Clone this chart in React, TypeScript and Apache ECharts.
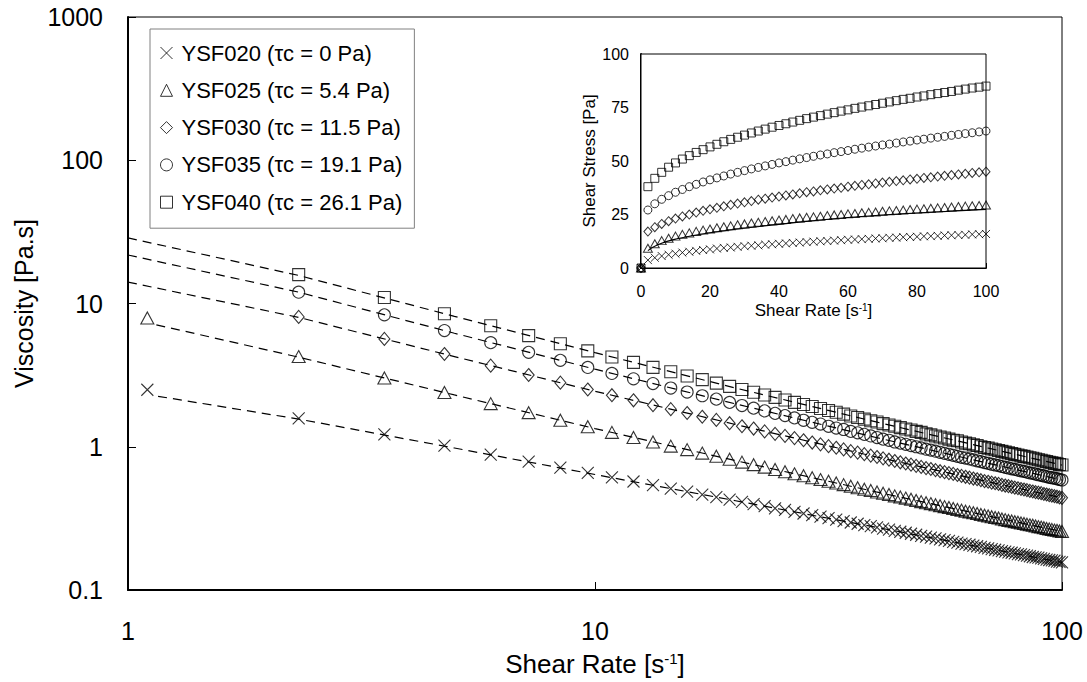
import React, { useEffect, useRef } from 'react';
import * as echarts from 'echarts';

// ---------- main plot data (viscosity vs shear rate, log-log) ----------
const shearRate = [1.10, 2.32, 3.54, 4.76, 5.98, 7.21, 8.43, 9.65, 10.87, 12.09, 13.31, 14.53, 15.75, 16.97, 18.19, 19.42, 20.64, 21.86, 23.08, 24.30, 25.52, 26.74, 27.96, 29.18, 30.40, 31.63, 32.85, 34.07, 35.29, 36.51, 37.73, 38.95, 40.17, 41.39, 42.61, 43.84, 45.06, 46.28, 47.50, 48.72, 49.94, 51.16, 52.38, 53.60, 54.82, 56.05, 57.27, 58.49, 59.71, 60.93, 62.15, 63.37, 64.59, 65.81, 67.03, 68.26, 69.48, 70.70, 71.92, 73.14, 74.36, 75.58, 76.80, 78.02, 79.24, 80.47, 81.69, 82.91, 84.13, 85.35, 86.57, 87.79, 89.01, 90.23, 91.45, 92.68, 93.90, 95.12, 96.34, 97.56, 98.78, 100.00];

const visc020 = [2.50, 1.58, 1.22, 1.02, 0.882, 0.787, 0.714, 0.657, 0.611, 0.572, 0.539, 0.511, 0.486, 0.464, 0.445, 0.427, 0.412, 0.398, 0.385, 0.372, 0.362, 0.351, 0.342, 0.333, 0.325, 0.317, 0.310, 0.303, 0.296, 0.290, 0.284, 0.279, 0.274, 0.268, 0.264, 0.259, 0.255, 0.251, 0.247, 0.243, 0.239, 0.236, 0.232, 0.229, 0.226, 0.223, 0.220, 0.217, 0.214, 0.211, 0.209, 0.207, 0.204, 0.202, 0.200, 0.197, 0.195, 0.193, 0.191, 0.189, 0.187, 0.185, 0.183, 0.182, 0.180, 0.178, 0.177, 0.175, 0.174, 0.172, 0.170, 0.169, 0.168, 0.166, 0.165, 0.163, 0.162, 0.161, 0.160, 0.158, 0.157, 0.156];
const visc025 = [7.93, 4.26, 3.02, 2.39, 2.00, 1.73, 1.53, 1.38, 1.26, 1.16, 1.08, 1.01, 0.955, 0.903, 0.858, 0.818, 0.781, 0.750, 0.721, 0.694, 0.670, 0.647, 0.627, 0.608, 0.590, 0.574, 0.558, 0.544, 0.530, 0.518, 0.505, 0.495, 0.483, 0.474, 0.464, 0.454, 0.446, 0.438, 0.430, 0.422, 0.414, 0.407, 0.401, 0.394, 0.388, 0.382, 0.377, 0.371, 0.365, 0.361, 0.355, 0.351, 0.346, 0.342, 0.337, 0.333, 0.329, 0.325, 0.321, 0.318, 0.313, 0.310, 0.306, 0.303, 0.300, 0.297, 0.294, 0.291, 0.288, 0.285, 0.283, 0.280, 0.277, 0.275, 0.272, 0.269, 0.267, 0.265, 0.262, 0.261, 0.258, 0.256];
const visc030 = [null, 8.06, 5.66, 4.44, 3.68, 3.17, 2.80, 2.51, 2.29, 2.11, 1.95, 1.83, 1.72, 1.62, 1.54, 1.46, 1.39, 1.34, 1.28, 1.23, 1.19, 1.15, 1.11, 1.07, 1.04, 1.01, 0.984, 0.958, 0.932, 0.910, 0.888, 0.868, 0.848, 0.830, 0.812, 0.795, 0.779, 0.764, 0.751, 0.736, 0.723, 0.710, 0.699, 0.687, 0.675, 0.665, 0.655, 0.646, 0.635, 0.626, 0.617, 0.609, 0.600, 0.593, 0.584, 0.576, 0.570, 0.562, 0.556, 0.550, 0.542, 0.536, 0.531, 0.524, 0.518, 0.513, 0.507, 0.503, 0.498, 0.492, 0.487, 0.482, 0.478, 0.474, 0.468, 0.464, 0.459, 0.456, 0.452, 0.448, 0.443, 0.440];
const visc035 = [null, 12.0, 8.33, 6.47, 5.33, 4.56, 4.01, 3.58, 3.25, 2.98, 2.76, 2.57, 2.41, 2.27, 2.15, 2.04, 1.94, 1.86, 1.78, 1.71, 1.65, 1.59, 1.53, 1.48, 1.44, 1.39, 1.35, 1.32, 1.28, 1.25, 1.22, 1.19, 1.16, 1.13, 1.11, 1.08, 1.06, 1.04, 1.02, 1.00, 0.981, 0.962, 0.947, 0.931, 0.915, 0.899, 0.886, 0.872, 0.857, 0.844, 0.833, 0.822, 0.809, 0.798, 0.787, 0.775, 0.766, 0.755, 0.746, 0.738, 0.728, 0.719, 0.711, 0.702, 0.695, 0.687, 0.679, 0.673, 0.665, 0.657, 0.653, 0.645, 0.638, 0.632, 0.625, 0.619, 0.612, 0.608, 0.603, 0.598, 0.591, 0.586];
const visc040 = [null, 15.9, 11.0, 8.49, 6.99, 5.97, 5.23, 4.67, 4.23, 3.88, 3.58, 3.34, 3.12, 2.94, 2.78, 2.64, 2.51, 2.40, 2.30, 2.21, 2.12, 2.04, 1.97, 1.91, 1.85, 1.79, 1.74, 1.69, 1.64, 1.60, 1.56, 1.52, 1.49, 1.45, 1.42, 1.39, 1.36, 1.33, 1.31, 1.28, 1.26, 1.23, 1.21, 1.19, 1.17, 1.15, 1.13, 1.11, 1.10, 1.08, 1.06, 1.05, 1.03, 1.02, 1.00, 0.989, 0.978, 0.964, 0.953, 0.942, 0.928, 0.917, 0.906, 0.895, 0.885, 0.875, 0.864, 0.857, 0.848, 0.837, 0.831, 0.821, 0.811, 0.805, 0.795, 0.788, 0.779, 0.773, 0.766, 0.760, 0.751, 0.745];

// fitted (dashed) curves in the main plot
const fitRate020 = [1.16, 2.32, 5, 10, 20, 40, 70, 100];
const fitVisc020 = [2.25, 1.56, 0.98, 0.64, 0.42, 0.274, 0.194, 0.156];
const fitRate025 = [1.15, 2.32, 5, 10, 20, 40, 70, 100];
const fitVisc025 = [7.1, 4.22, 2.30, 1.34, 0.80, 0.484, 0.327, 0.256];
const fitRate030 = [1, 2.32, 5, 10, 20, 40, 70, 100];
const fitVisc030 = [14.1, 8.0, 4.26, 2.44, 1.43, 0.85, 0.567, 0.44];
const fitRate035 = [1, 2.32, 5, 10, 20, 40, 70, 100];
const fitVisc035 = [21.8, 12.0, 6.2, 3.48, 1.99, 1.16, 0.763, 0.586];
const fitRate040 = [1, 2.32, 5, 10, 20, 40, 70, 100];
const fitVisc040 = [28.7, 15.7, 8.14, 4.54, 2.57, 1.49, 0.973, 0.745];

// ---------- inset data (shear stress vs shear rate, linear) ----------
const insetRate = [0, 2, 4, 6, 8, 10, 12, 14, 16, 18, 20, 22, 24, 26, 28, 30, 32, 34, 36, 38, 40, 42, 44, 46, 48, 50, 52, 54, 56, 58, 60, 62, 64, 66, 68, 70, 72, 74, 76, 78, 80, 82, 84, 86, 88, 90, 92, 94, 96, 98, 100];
const stress020 = [0, 3.7, 4.8, 5.6, 6.2, 6.7, 7.2, 7.6, 8.0, 8.4, 8.7, 9.1, 9.4, 9.6, 9.9, 10.2, 10.4, 10.6, 10.9, 11.1, 11.3, 11.5, 11.7, 11.9, 12.1, 12.3, 12.5, 12.6, 12.8, 13.0, 13.2, 13.3, 13.5, 13.6, 13.8, 13.9, 14.1, 14.2, 14.4, 14.5, 14.6, 14.8, 14.9, 15.0, 15.2, 15.3, 15.4, 15.5, 15.7, 15.8, 15.9];
const stress025 = [0, 9.2, 11.3, 12.8, 13.9, 14.9, 15.7, 16.4, 17.1, 17.7, 18.2, 18.8, 19.3, 19.7, 20.2, 20.6, 21.0, 21.4, 21.7, 22.1, 22.4, 22.7, 23.1, 23.4, 23.7, 23.9, 24.2, 24.5, 24.8, 25.0, 25.3, 25.5, 25.8, 26.0, 26.2, 26.5, 26.7, 26.9, 27.1, 27.3, 27.5, 27.7, 27.9, 28.1, 28.3, 28.5, 28.7, 28.9, 29.1, 29.2, 29.4];
const stress030 = [0, 17.0, 19.1, 20.6, 21.9, 23.1, 24.1, 25.0, 25.9, 26.7, 27.4, 28.1, 28.8, 29.5, 30.1, 30.7, 31.3, 31.9, 32.4, 32.9, 33.4, 33.9, 34.4, 34.9, 35.4, 35.8, 36.3, 36.7, 37.1, 37.5, 38.0, 38.4, 38.8, 39.1, 39.5, 39.9, 40.3, 40.6, 41.0, 41.4, 41.7, 42.1, 42.4, 42.7, 43.1, 43.4, 43.7, 44.0, 44.4, 44.7, 45.0];
const stress035 = [0, 27.1, 30.0, 32.1, 33.8, 35.4, 36.7, 38.0, 39.1, 40.2, 41.2, 42.1, 43.0, 43.9, 44.7, 45.5, 46.3, 47.0, 47.7, 48.4, 49.1, 49.7, 50.4, 51.0, 51.6, 52.2, 52.8, 53.3, 53.9, 54.4, 54.9, 55.5, 56.0, 56.5, 57.0, 57.5, 57.9, 58.4, 58.9, 59.3, 59.8, 60.2, 60.7, 61.1, 61.5, 62.0, 62.4, 62.8, 63.2, 63.6, 64.0];
const stress040 = [0, 38.0, 41.9, 44.7, 47.1, 49.1, 50.9, 52.5, 54.0, 55.3, 56.6, 57.8, 59.0, 60.1, 61.1, 62.1, 63.1, 64.0, 64.9, 65.8, 66.6, 67.4, 68.2, 69.0, 69.8, 70.5, 71.2, 71.9, 72.6, 73.3, 73.9, 74.6, 75.2, 75.8, 76.4, 77.0, 77.6, 78.2, 78.8, 79.3, 79.9, 80.4, 81.0, 81.5, 82.0, 82.5, 83.1, 83.6, 84.1, 84.5, 85.0];
const insetFitRate025 = [2, 5, 10, 20, 40, 60, 80, 100];
const insetFitStress025 = [8.1, 11.0, 13.5, 16.5, 20.4, 23.6, 25.7, 27.4];

// ---------- labels ----------
const seriesNames = [
  'YSF020 (τc = 0 Pa)',
  'YSF025 (τc = 5.4 Pa)',
  'YSF030 (τc = 11.5 Pa)',
  'YSF035 (τc = 19.1 Pa)',
  'YSF040 (τc = 26.1 Pa)',
];
const mainXTicks = [1, 10, 100];
const mainYTicks = [0.1, 1, 10, 100, 1000];
const insetXTicks = [0, 20, 40, 60, 80, 100];
const insetYTicks = [0, 25, 50, 75, 100];

const FONT = '"Liberation Sans", Arial, Helvetica, sans-serif';
const CROSS = 'path://M0,0L10,10M0,10L10,0';
const mainSymbols = [CROSS, 'triangle', 'diamond', 'circle', 'rect'];
const mainSizes: any[] = [12, [13, 12], [11, 13], 12, 12];
const insetSizes: any[] = [8, [9, 8], [8, 9], 8, 8];

const pair = (xs: number[], ys: (number | null)[]) =>
  xs.map((x, i) => [x, ys[i]]).filter((p) => p[1] !== null && p[1] !== undefined);

export default function App() {
  const ref = useRef<HTMLDivElement>(null);

  useEffect(() => {
    if (!ref.current) return;
    const chart = echarts.init(ref.current, null, { renderer: 'svg' });

    const mainVisc = [visc020, visc025, visc030, visc035, visc040];
    const fitRates = [fitRate020, fitRate025, fitRate030, fitRate035, fitRate040];
    const fitVisc = [fitVisc020, fitVisc025, fitVisc030, fitVisc035, fitVisc040];
    const insetStress = [stress020, stress025, stress030, stress035, stress040];

    const hollow = { color: 'transparent', borderColor: '#000', borderWidth: 1.1 };

    const series: any[] = [];
    fitRates.forEach((r, i) => {
      series.push({
        type: 'line',
        name: 'fit' + i,
        xAxisIndex: 0,
        yAxisIndex: 0,
        data: pair(r, fitVisc[i]),
        showSymbol: false,
        symbol: 'none',
        silent: true,
        lineStyle: { color: '#000', width: 1.2, type: [9, 6] },
        z: 2,
      });
    });
    mainVisc.forEach((v, i) => {
      series.push({
        type: 'scatter',
        name: seriesNames[i],
        xAxisIndex: 0,
        yAxisIndex: 0,
        data: pair(shearRate, v),
        symbol: mainSymbols[i],
        symbolSize: mainSizes[i],
        itemStyle: hollow,
        clip: false,
        z: 3,
      });
    });
    series.push({
      type: 'line',
      name: 'insetFit',
      xAxisIndex: 1,
      yAxisIndex: 1,
      data: pair(insetFitRate025, insetFitStress025),
      showSymbol: false,
      symbol: 'none',
      smooth: true,
      silent: true,
      lineStyle: { color: '#000', width: 1.1 },
      z: 6,
    });
    insetStress.forEach((s, i) => {
      series.push({
        type: 'scatter',
        name: seriesNames[i],
        xAxisIndex: 1,
        yAxisIndex: 1,
        data: pair(insetRate, s),
        symbol: mainSymbols[i],
        symbolSize: insetSizes[i],
        itemStyle: { color: 'transparent', borderColor: '#000', borderWidth: 1 },
        clip: false,
        z: 7,
      });
    });

    const supRich = (size: number) => ({
      sup: { fontSize: size, verticalAlign: 'top', fontFamily: FONT, color: '#000' },
    });

    const option: any = {
      animation: false,
      backgroundColor: '#fff',
      textStyle: { fontFamily: FONT, color: '#000' },
      tooltip: { show: false },
      grid: [
        { left: 128, top: 17, width: 934, height: 573, show: true, borderColor: '#000', borderWidth: 1, backgroundColor: 'transparent', z: 0 },
        { left: 641, top: 54, width: 345, height: 214, show: true, borderColor: '#000', borderWidth: 1, backgroundColor: '#fff', z: 4 },
      ],
      xAxis: [
        {
          type: 'log', logBase: 10, gridIndex: 0,
          min: mainXTicks[0], max: mainXTicks[mainXTicks.length - 1],
          axisLine: { lineStyle: { color: '#000', width: 2 } },
          axisTick: { inside: true, length: 8, lineStyle: { color: '#000', width: 1 } },
          minorTick: { show: false },
          splitLine: { show: false },
          axisLabel: { fontSize: 25, margin: 28, color: '#000', fontFamily: FONT, formatter: (v: number) => String(v) },
          name: 'Shear Rate [s{sup|-1}]',
          nameLocation: 'middle',
          nameGap: 61,
          nameTextStyle: { fontSize: 26, color: '#000', fontFamily: FONT, rich: supRich(15) },
        },
        {
          type: 'value', gridIndex: 1,
          min: insetXTicks[0], max: insetXTicks[insetXTicks.length - 1], interval: 20,
          axisLine: { lineStyle: { color: '#000', width: 2 } },
          axisTick: { inside: true, length: 5, lineStyle: { color: '#000', width: 1 } },
          splitLine: { show: false },
          axisLabel: { fontSize: 16, margin: 15, color: '#000', fontFamily: FONT },
          name: 'Shear Rate [s{sup|-1}]',
          nameLocation: 'middle',
          nameGap: 34,
          nameTextStyle: { fontSize: 17, color: '#000', fontFamily: FONT, rich: supRich(10) },
        },
      ],
      yAxis: [
        {
          type: 'log', logBase: 10, gridIndex: 0,
          min: mainYTicks[0], max: mainYTicks[mainYTicks.length - 1],
          axisLine: { lineStyle: { color: '#000', width: 2 } },
          axisTick: { inside: true, length: 8, lineStyle: { color: '#000', width: 1 } },
          minorTick: { show: false },
          splitLine: { show: false },
          axisLabel: { fontSize: 25, margin: 25, color: '#000', fontFamily: FONT, formatter: (v: number) => String(v) },
          name: 'Viscosity [Pa.s]',
          nameLocation: 'middle',
          nameGap: 80,
          nameTextStyle: { fontSize: 25, color: '#000', fontFamily: FONT },
        },
        {
          type: 'value', gridIndex: 1,
          min: insetYTicks[0], max: insetYTicks[insetYTicks.length - 1], interval: 25,
          axisLine: { lineStyle: { color: '#000', width: 2 } },
          axisTick: { inside: true, length: 5, lineStyle: { color: '#000', width: 1 } },
          splitLine: { show: false },
          axisLabel: { fontSize: 16, margin: 12, color: '#000', fontFamily: FONT },
          name: 'Shear Stress [Pa]',
          nameLocation: 'middle',
          nameGap: 27,
          nameTextStyle: { fontSize: 17, color: '#000', fontFamily: FONT },
        },
      ],
      legend: {
        orient: 'vertical',
        left: 150,
        top: 29,
        padding: [13, 12, 15, 10],
        itemGap: 15.3,
        itemWidth: 12,
        itemHeight: 12,
        borderColor: '#808080',
        borderWidth: 1,
        backgroundColor: '#fff',
        selectedMode: false,
        textStyle: { fontSize: 22, color: '#000', fontFamily: FONT, padding: [0, 0, 0, 4] },
        data: seriesNames.map((n, i) => ({
          name: n,
          icon: mainSymbols[i],
          itemStyle: { color: 'transparent', borderColor: '#000', borderWidth: 1 },
        })),
      },
      series,
    };

    chart.setOption(option);
    return () => chart.dispose();
  }, []);

  return (
    <div
      ref={ref}
      style={{ position: 'absolute', left: 0, top: 0, width: 1087, height: 682, background: '#fff' }}
    />
  );
}
